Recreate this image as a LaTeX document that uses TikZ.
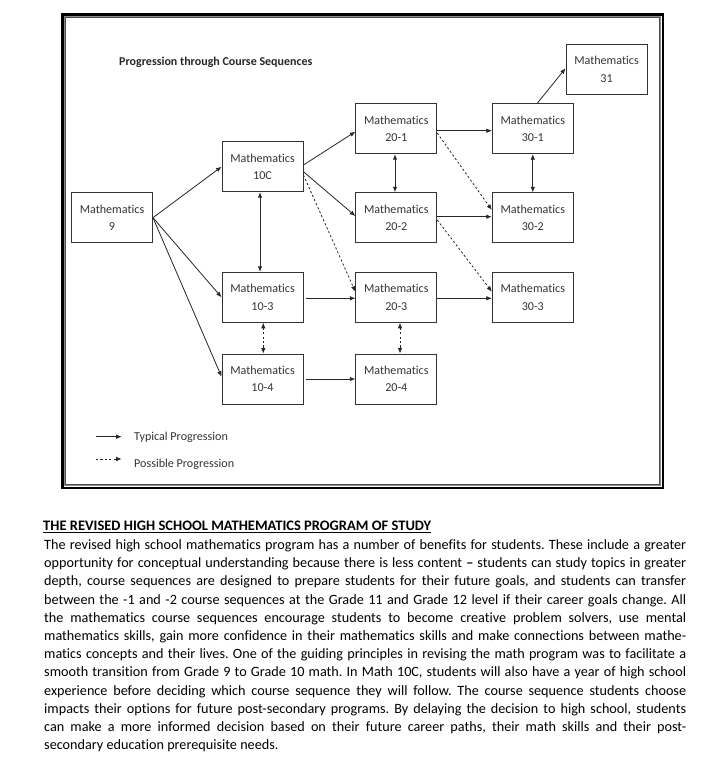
\documentclass[tikz,border=0pt]{standalone}
\usepackage{fontspec}
\setmainfont{Carlito}[Ligatures=NoCommon]
\usetikzlibrary{arrows.meta,calc}
\frenchspacing
\tikzset{
  mbox/.style={draw=black!80, line width=0.9pt, minimum width=81pt, minimum height=50pt,
    inner sep=0pt, align=center, font=\fontsize{12.1}{17.5}\selectfont, text=black!80},
  arr/.style={-{Latex[length=5.5pt,width=4.5pt]}, line width=0.8pt, draw=black!85},
  darr/.style={arr, dash pattern=on 2.2pt off 2.2pt},
  both/.style={{Latex[length=5.5pt,width=4.5pt]}-{Latex[length=5.5pt,width=4.5pt]}, line width=0.9pt, draw=black!85},
  dboth/.style={both, dash pattern=on 2.2pt off 2.2pt},
  legtext/.style={anchor=west, inner sep=0pt, font=\fontsize{12.1}{14}\selectfont, text=black!80},
  bodyline/.style={anchor=base west, inner sep=0pt, font=\fontsize{14.2}{18}\selectfont}
}
\begin{document}
\frenchspacing
\begin{tikzpicture}[x=1pt,y=-1pt]
\useasboundingbox (0,0) rectangle (705,766);
% frame
\draw[line width=2.6pt, black] (62.3,14.3) rectangle (663,488);
\draw[line width=1.2pt, black!45] (64.6,16.6) rectangle (660.7,485.7);
\draw[line width=0.5pt, black!70] (65.6,17.6) rectangle (659.7,484.7);
% title
\node[anchor=west, inner sep=0pt, font=\bfseries\fontsize{12}{14}\selectfont, text=black!85] (title) at (119,62) {Progression through Course Sequences};
% boxes
\node[mbox] (m9)   at (112,217.7) {Mathematics\\9};
\node[mbox] (m10c) at (262.5,166.7) {Mathematics\\10C};
\node[mbox] (m103) at (262.5,297.3) {Mathematics\\10-3};
\node[mbox] (m104) at (262.5,379) {Mathematics\\10-4};
\node[mbox] (m201) at (396.3,128.7) {Mathematics\\20-1};
\node[mbox] (m202) at (396.3,217.7) {Mathematics\\20-2};
\node[mbox] (m203) at (396.3,297.3) {Mathematics\\20-3};
\node[mbox] (m204) at (396.3,379) {Mathematics\\20-4};
\node[mbox] (m301) at (532.8,128.7) {Mathematics\\30-1};
\node[mbox] (m302) at (532.8,217.7) {Mathematics\\30-2};
\node[mbox] (m303) at (532.8,297.3) {Mathematics\\30-3};
\node[mbox] (m31)  at (606.5,69.2) {Mathematics\\31};
% connectors
\draw[arr] (m9.east) -- (m10c.west);
\draw[arr] (m9.east) -- (m103.west);
\draw[arr] (m9.east) -- ($(m104.west)+(0,-2.3)$);
\draw[both] ($(m10c.south)+(-2.5,0)$) -- ($(m103.north)+(-2.5,0)$);
\draw[arr] ($(m10c.east)+(0,-1.7)$) -- ($(m201.west)+(0,3)$);
\draw[arr] ($(m10c.east)+(0,5)$) -- ($(m202.west)+(0,-1.7)$);
\draw[darr] ($(m10c.east)+(0,8.3)$) -- ($(m203.west)+(0,-5.6)$);
\draw[arr, line width=0.6pt] ($(m103.east)+(2.7,1)$) -- ($(m203.west)+(0,1)$);
\draw[arr, line width=0.6pt] ($(m201.east)+(0,2)$) -- ($(m301.west)+(0,2)$);
\draw[darr] ($(m201.east)+(0,4.3)$) -- ($(m302.west)+(0,-7.7)$);
\draw[both] ($(m201.south)+(-1.3,0)$) -- ($(m202.north)+(-1.3,0)$);
\draw[arr, line width=1pt] ($(m202.east)+(0,-1)$) -- ($(m302.west)+(0,-1)$);
\draw[darr] ($(m202.east)+(0,2.3)$) -- ($(m303.west)+(0,-5.6)$);
\draw[arr, line width=0.6pt] ($(m203.east)+(0,1)$) -- ($(m303.west)+(0,1)$);
\draw[both, line width=0.7pt] (m301.south) -- (m302.north);
\draw[arr] ($(m301.north)+(4.5,0)$) -- ($(m31.west)+(0,-0.9)$);
\draw[dboth] ($(m103.south)+(0.8,0)$) -- ($(m104.north)+(0.8,0)$);
\draw[dboth] ($(m203.south)+(3.7,0)$) -- ($(m204.north)+(3.7,0)$);
\draw[arr] ($(m104.east)+(2.7,0)$) -- (m204.west);
% legend
\coordinate (l1a) at (96,436.7);
\coordinate (l1b) at (121.7,436.7);
\coordinate (l2a) at (96,459);
\coordinate (l2b) at (121.7,459);
\draw[arr] (l1a) -- (l1b);
\draw[darr] (l2a) -- (l2b);
\node[legtext] (lt1) at (134,437) {Typical Progression};
\node[legtext] (lt2) at (134,464.5) {Possible Progression};
% text block
\node[bodyline, font=\bfseries\fontsize{14.5}{18}\selectfont] (head) at (43,530.5) {\underline{THE REVISED HIGH SCHOOL MATHEMATICS PROGRAM OF STUDY}};
\node[bodyline] (t1) at (44,549.5) {\makebox[642pt][s]{The revised high school mathematics program has a number of benefits for students. These include a greater}};
\node[bodyline] (t2) at (44,567.7) {\makebox[642pt][s]{opportunity for conceptual understanding because there is less content \textbf{–} students can study topics in greater}};
\node[bodyline] (t3) at (44,585.9) {\makebox[642pt][s]{depth, course sequences are designed to prepare students for their future goals, and students can transfer}};
\node[bodyline] (t4) at (44,604.1) {\makebox[642pt][s]{between the -1 and -2 course sequences at the Grade 11 and Grade 12 level if their career goals change. All}};
\node[bodyline] (t5) at (44,622.3) {\makebox[642pt][s]{the mathematics course sequences encourage students to become creative problem solvers, use mental}};
\node[bodyline] (t6) at (44,640.5) {\makebox[642pt][s]{mathematics skills, gain more confidence in their mathematics skills and make connections between mathe-}};
\node[bodyline] (t7) at (44,658.7) {\makebox[642pt][s]{matics concepts and their lives. One of the guiding principles in revising the math program was to facilitate a}};
\node[bodyline] (t8) at (44,676.9) {\makebox[642pt][s]{smooth transition from Grade 9 to Grade 10 math. In Math 10C, students will also have a year of high school}};
\node[bodyline] (t9) at (44,695.1) {\makebox[642pt][s]{experience before deciding which course sequence they will follow. The course sequence students choose}};
\node[bodyline] (t10) at (44,713.3) {\makebox[642pt][s]{impacts their options for future post-secondary programs. By delaying the decision to high school, students}};
\node[bodyline] (t11) at (44,731.5) {\makebox[642pt][s]{can make a more informed decision based on their future career paths, their math skills and their post-}};
\node[bodyline] (t12) at (44,749.7) {secondary education prerequisite needs.};
\end{tikzpicture}
\end{document}
